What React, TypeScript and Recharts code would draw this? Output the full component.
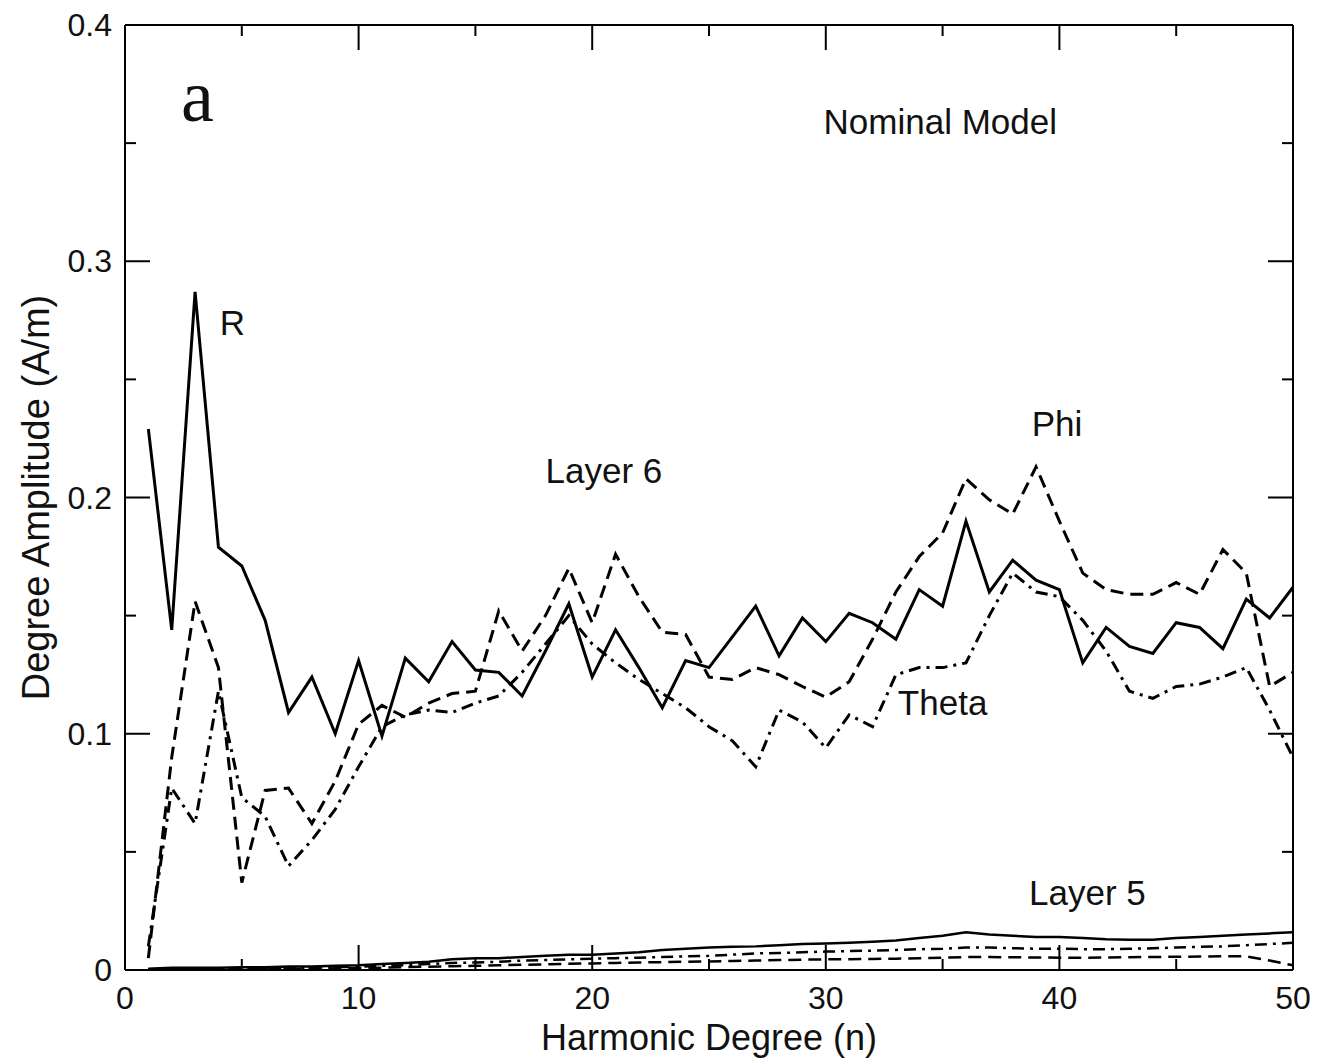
import React from "react";
import { LineChart, Line, XAxis, YAxis, ReferenceDot, Label } from "recharts";

// Harmonic degree n
const degrees = [
  1, 2, 3, 4, 5, 6, 7, 8, 9, 10, 11, 12, 13, 14, 15, 16, 17, 18, 19, 20, 21, 22, 23, 24, 25,
  26, 27, 28, 29, 30, 31, 32, 33, 34, 35, 36, 37, 38, 39, 40, 41, 42, 43, 44, 45, 46, 47, 48, 49, 50,
];

// Layer 6 - R component (solid)
const layer6R = [
  0.229, 0.144, 0.287, 0.179, 0.171, 0.148, 0.109, 0.124, 0.1, 0.131,
  0.099, 0.132, 0.122, 0.139, 0.127, 0.126, 0.116, 0.135, 0.155, 0.124,
  0.144, 0.128, 0.111, 0.131, 0.128, 0.141, 0.154, 0.133, 0.149, 0.139,
  0.151, 0.147, 0.14, 0.161, 0.154, 0.19, 0.16, 0.1735, 0.165, 0.161,
  0.13, 0.145, 0.137, 0.134, 0.147, 0.145, 0.136, 0.157, 0.149, 0.162,
];

// Layer 6 - Phi component (dashed)
const layer6Phi = [
  0.005, 0.09, 0.156, 0.128, 0.037, 0.076, 0.077, 0.062, 0.08, 0.104,
  0.112, 0.107, 0.113, 0.117, 0.118, 0.152, 0.135, 0.15, 0.17, 0.147,
  0.176, 0.158, 0.143, 0.142, 0.124, 0.123, 0.128, 0.125, 0.12, 0.1155,
  0.122, 0.14, 0.16, 0.175, 0.185, 0.208, 0.199, 0.193, 0.213, 0.19,
  0.168, 0.161, 0.159, 0.159, 0.164, 0.159, 0.178, 0.168, 0.12, 0.126,
];

// Layer 6 - Theta component (dash-dot)
const layer6Theta = [
  0.01, 0.077, 0.062, 0.118, 0.073, 0.065, 0.044, 0.055, 0.068, 0.086,
  0.103, 0.108, 0.11, 0.109, 0.113, 0.116, 0.126, 0.138, 0.15, 0.138,
  0.13, 0.123, 0.117, 0.111, 0.103, 0.097, 0.086, 0.11, 0.105, 0.094,
  0.108, 0.103, 0.125, 0.128, 0.128, 0.13, 0.15, 0.168, 0.16, 0.158,
  0.148, 0.135, 0.118, 0.115, 0.12, 0.121, 0.124, 0.128, 0.11, 0.09,
];

// Layer 5 components
const layer5R = [
  0.0005, 0.001, 0.001, 0.001, 0.0012, 0.0012, 0.0015, 0.0015, 0.0018, 0.002,
  0.0025, 0.003, 0.0035, 0.0045, 0.005, 0.005, 0.0055, 0.006, 0.0065, 0.0065,
  0.007, 0.0075, 0.0085, 0.009, 0.0095, 0.0098, 0.01, 0.0105, 0.011, 0.0112,
  0.0115, 0.012, 0.0125, 0.0135, 0.0145, 0.016, 0.015, 0.0145, 0.014, 0.014,
  0.0135, 0.013, 0.0128, 0.0128, 0.0135, 0.014, 0.0145, 0.015, 0.0155, 0.016,
];
const layer5Theta = [
  0.0003, 0.0005, 0.0006, 0.0006, 0.0008, 0.0008, 0.001, 0.001, 0.0012, 0.0014,
  0.0018, 0.002, 0.0025, 0.003, 0.0032, 0.0035, 0.004, 0.0042, 0.0045, 0.0048,
  0.005, 0.0052, 0.0055, 0.0058, 0.006, 0.0065, 0.007, 0.0072, 0.0075, 0.0078,
  0.008, 0.0082, 0.0085, 0.0088, 0.009, 0.0095, 0.0095, 0.0092, 0.009, 0.009,
  0.0088, 0.0088, 0.009, 0.0092, 0.0095, 0.0098, 0.01, 0.0105, 0.011, 0.0115,
];
const layer5Phi = [
  0.0002, 0.0003, 0.0003, 0.0004, 0.0004, 0.0005, 0.0005, 0.0006, 0.0007, 0.0008,
  0.001, 0.0012, 0.0014, 0.0016, 0.0018, 0.002, 0.0022, 0.0024, 0.0026, 0.0028,
  0.003, 0.0032, 0.0033, 0.0035, 0.0036, 0.0038, 0.004, 0.0042, 0.0044, 0.0045,
  0.0046, 0.0047, 0.0048, 0.005, 0.0052, 0.0055, 0.0055, 0.0054, 0.0053, 0.0052,
  0.0052, 0.0053, 0.0054, 0.0055, 0.0056, 0.0057, 0.0058, 0.0058, 0.004, 0.002,
];

// Axis ticks
const xTicks = [0, 5, 10, 15, 20, 25, 30, 35, 40, 45, 50];
const xTickLabels = ["0", "", "10", "", "20", "", "30", "", "40", "", "50"];
const yTicks = [0, 0.05, 0.1, 0.15, 0.2, 0.25, 0.3, 0.35, 0.4];
const yTickLabels = ["0", "", "0.1", "", "0.2", "", "0.3", "", "0.4"];

// Text annotations (data coordinates)
const annotationText = ["a", "Nominal Model", "R", "Layer 6", "Phi", "Theta", "Layer 5"];
const annotationX = [3.1, 34.9, 4.6, 20.5, 39.9, 35.0, 41.2];
const annotationY = [0.37, 0.359, 0.274, 0.2116, 0.2315, 0.1134, 0.0326];

const data = degrees.map((n, i) => ({
  n,
  r6: layer6R[i],
  phi6: layer6Phi[i],
  theta6: layer6Theta[i],
  r5: layer5R[i],
  theta5: layer5Theta[i],
  phi5: layer5Phi[i],
}));

const FONT = "'Liberation Sans', Arial, Helvetica, sans-serif";
const MAJOR = 25;
const MINOR = 11;

const labelFor = (ticks: number[], labels: string[], v: number) => {
  const idx = ticks.findIndex((t) => Math.abs(t - v) < 1e-9);
  return idx >= 0 ? labels[idx] : "";
};

const BottomTick = (props: any) => {
  const { x, y, payload } = props;
  const lab = labelFor(xTicks, xTickLabels, payload.value);
  const len = lab ? MAJOR : MINOR;
  return (
    <g>
      <line x1={x} x2={x} y1={y} y2={y - len} stroke="#000" strokeWidth={2} />
      {lab && (
        <text x={x} y={y + 39} textAnchor="middle" fontSize={32} fontFamily={FONT} fill="#111">
          {lab}
        </text>
      )}
    </g>
  );
};

const TopTick = (props: any) => {
  const { x, y, payload } = props;
  const lab = labelFor(xTicks, xTickLabels, payload.value);
  const len = lab ? MAJOR : MINOR;
  return <line x1={x} x2={x} y1={y} y2={y + len} stroke="#000" strokeWidth={2} />;
};

const LeftTick = (props: any) => {
  const { x, y, payload } = props;
  const lab = labelFor(yTicks, yTickLabels, payload.value);
  const len = lab ? MAJOR : MINOR;
  return (
    <g>
      <line x1={x} x2={x + len} y1={y} y2={y} stroke="#000" strokeWidth={2} />
      {lab && (
        <text x={x - 13} y={y + 11} textAnchor="end" fontSize={32} fontFamily={FONT} fill="#111">
          {lab}
        </text>
      )}
    </g>
  );
};

const RightTick = (props: any) => {
  const { x, y, payload } = props;
  const lab = labelFor(yTicks, yTickLabels, payload.value);
  const len = lab ? MAJOR : MINOR;
  return <line x1={x} x2={x - len} y1={y} y2={y} stroke="#000" strokeWidth={2} />;
};

const makeTextShape = (text: string) => (p: any) => {
  const isA = text === "a";
  return (
    <text
      x={p.cx}
      y={p.cy}
      textAnchor="middle"
      dominantBaseline="central"
      fontSize={isA ? 74 : 35}
      fontFamily={isA ? "'Liberation Serif', 'Times New Roman', serif" : FONT}
      fill="#111"
    >
      {text}
    </text>
  );
};

export default function App() {
  return (
    <div style={{ width: 1310, height: 1056, background: "#fff" }}>
      <LineChart
        width={1310}
        height={1056}
        data={data}
        margin={{ top: 16, right: 24, bottom: 0, left: 0 }}
      >
        <XAxis
          dataKey="n"
          type="number"
          domain={[0, 50]}
          ticks={xTicks}
          interval={0}
          height={94}
          tickSize={0}
          tickMargin={0}
          tickLine={false}
          axisLine={{ stroke: "#000", strokeWidth: 2 }}
          tick={BottomTick}
          allowDataOverflow
        >
          <Label
            content={(p: any) => {
              const vb = p.viewBox || { x: 117, y: 962, width: 1168, height: 94 };
              return (
                <text
                  x={vb.x + vb.width / 2}
                  y={vb.y + 80}
                  textAnchor="middle"
                  fontSize={36}
                  fontFamily={FONT}
                  fill="#111"
                >
                  Harmonic Degree (n)
                </text>
              );
            }}
          />
        </XAxis>
        <XAxis
          xAxisId="top"
          dataKey="n"
          type="number"
          orientation="top"
          domain={[0, 50]}
          ticks={xTicks}
          interval={0}
          height={1}
          tickSize={0}
          tickMargin={0}
          tickLine={false}
          axisLine={{ stroke: "#000", strokeWidth: 2 }}
          tick={TopTick}
          allowDataOverflow
        />
        <YAxis
          type="number"
          domain={[0, 0.4]}
          ticks={yTicks}
          interval={0}
          width={117}
          tickSize={0}
          tickMargin={0}
          tickLine={false}
          axisLine={{ stroke: "#000", strokeWidth: 2 }}
          tick={LeftTick}
          allowDataOverflow
        >
          <Label
            content={(p: any) => {
              const vb = p.viewBox || { x: 0, y: 17, width: 117, height: 945 };
              const cx = vb.x + 28;
              const cy = vb.y + vb.height / 2;
              return (
                <text
                  x={cx}
                  y={cy}
                  transform={`rotate(-90 ${cx} ${cy})`}
                  textAnchor="middle"
                  dominantBaseline="central"
                  fontSize={38}
                  fontFamily={FONT}
                  fill="#111"
                >
                  Degree Amplitude (A/m)
                </text>
              );
            }}
          />
        </YAxis>
        <YAxis
          yAxisId="right"
          type="number"
          orientation="right"
          domain={[0, 0.4]}
          ticks={yTicks}
          interval={0}
          width={1}
          tickSize={0}
          tickMargin={0}
          tickLine={false}
          axisLine={{ stroke: "#000", strokeWidth: 2 }}
          tick={RightTick}
          allowDataOverflow
        />

        {/* invisible series binding the mirrored frame axes */}
        <Line
          xAxisId="top"
          yAxisId="right"
          type="linear"
          dataKey="r6"
          stroke="none"
          strokeWidth={0}
          dot={false}
          activeDot={false}
          legendType="none"
          isAnimationActive={false}
        />

        <Line type="linear" dataKey="r5" stroke="#000" strokeWidth={2.5} dot={false} isAnimationActive={false} />
        <Line type="linear" dataKey="theta5" stroke="#000" strokeWidth={2.5} strokeDasharray="12 6 3 6" dot={false} isAnimationActive={false} />
        <Line type="linear" dataKey="phi5" stroke="#000" strokeWidth={2.5} strokeDasharray="13 7" dot={false} isAnimationActive={false} />

        <Line type="linear" dataKey="theta6" stroke="#000" strokeWidth={3} strokeDasharray="12 6 3 6" dot={false} isAnimationActive={false} />
        <Line type="linear" dataKey="phi6" stroke="#000" strokeWidth={3} strokeDasharray="13 7" dot={false} isAnimationActive={false} />
        <Line type="linear" dataKey="r6" stroke="#000" strokeWidth={3} dot={false} isAnimationActive={false} />

        {annotationText.map((t, i) => (
          <ReferenceDot
            key={t}
            x={annotationX[i]}
            y={annotationY[i]}
            r={1}
            fill="none"
            stroke="none"
            ifOverflow="visible"
            shape={makeTextShape(t)}
          />
        ))}
      </LineChart>
    </div>
  );
}
